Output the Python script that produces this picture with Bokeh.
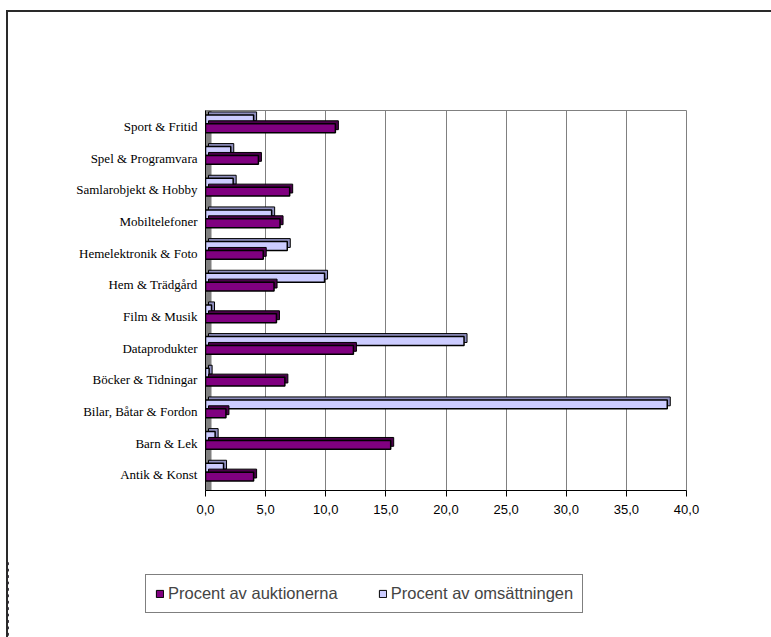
from bokeh.plotting import figure
from bokeh.models import (ColumnDataSource, FactorRange, Range1d, FixedTicker, Legend,
                          LegendItem, BoxAnnotation)
from bokeh.layouts import column
from bokeh.transform import dodge
from bokeh.embed import file_html
from bokeh.resources import INLINE

categories = ["Antik & Konst", "Barn & Lek", "Bilar, Båtar & Fordon", "Böcker & Tidningar",
              "Dataprodukter", "Film & Musik", "Hem & Trädgård", "Hemelektronik & Foto",
              "Mobiltelefoner", "Samlarobjekt & Hobby", "Spel & Programvara", "Sport & Fritid"]
auktioner = [4.0, 15.4, 1.7, 6.6, 12.3, 5.9, 5.7, 4.8, 6.2, 7.0, 4.4, 10.8]
omsattning = [1.5, 0.8, 38.4, 0.3, 21.5, 0.5, 9.9, 6.8, 5.5, 2.3, 2.1, 4.0]
tick_values = [0, 5, 10, 15, 20, 25, 30, 35, 40]
tick_labels = ["0,0", "5,0", "10,0", "15,0", "20,0", "25,0", "30,0", "35,0", "40,0"]
series_names = ["Procent av auktionerna", "Procent av omsättningen"]
colors = ["#800080", "#CCCCFF"]
side_colors = ["#4a004a", "#8f8fbf"]

depth = 0.25  # 3D end-cap offset in x units
src = ColumnDataSource(dict(cat=categories, auk=auktioner, oms=omsattning,
                            auk_d=[v + depth for v in auktioner],
                            oms_d=[v + depth for v in omsattning]))

BORDER = "2px solid #2a2a2a"
X0, Y0 = 8, 12           # content origin inside the outer border
PH = 550                 # height of the chart part
FT, FB, FL, FR = 110, 488, 205, 684
p = figure(width=765, height=PH, output_backend="svg", toolbar_location=None,
           y_range=FactorRange(*categories, range_padding=0), x_range=Range1d(0, 40),
           min_border_left=FL - X0, min_border_right=771 - FR,
           min_border_top=FT - Y0, min_border_bottom=(10 + PH) - FB)
p.margin = (10, 0, 0, 6)
p.frame_align = False
p.styles = {"border-left": BORDER, "border-top": BORDER, "box-sizing": "border-box"}

# 3D side wall
p.add_layout(BoxAnnotation(left=0, right=0.5, fill_color="#808080", fill_alpha=1,
                           line_color=None, level="underlay"))

bh = 0.28
dy = 0.095
p.hbar(y=dodge("cat", 0.22 + dy, range=p.y_range), left=depth, right="oms_d", height=bh,
       source=src, fill_color=side_colors[1], line_color="black", line_width=1)
p.hbar(y=dodge("cat", 0.22, range=p.y_range), left=0, right="oms", height=bh,
       source=src, fill_color=colors[1], line_color="black", line_width=1.5)
p.hbar(y=dodge("cat", -0.06 + dy, range=p.y_range), left=depth, right="auk_d", height=bh,
       source=src, fill_color=side_colors[0], line_color="black", line_width=1)
p.hbar(y=dodge("cat", -0.06, range=p.y_range), left=0, right="auk", height=bh,
       source=src, fill_color=colors[0], line_color="black", line_width=1.5)

p.xaxis.ticker = FixedTicker(ticks=tick_values)
p.xaxis.major_label_overrides = {v: l for v, l in zip(tick_values, tick_labels)}
p.xaxis.major_label_text_font = "Liberation Sans"
p.xaxis.major_label_text_font_size = "13px"
p.xaxis.major_label_text_color = "black"
p.xaxis.major_label_standoff = 8
p.xaxis.axis_line_color = "black"
p.xaxis.major_tick_line_color = "black"
p.xaxis.major_tick_out = 6
p.xaxis.major_tick_in = 0
p.xaxis.minor_tick_line_color = None

p.yaxis.major_label_text_font = "Liberation Serif"
p.yaxis.major_label_text_font_size = "13px"
p.yaxis.major_label_text_color = "black"
p.yaxis.axis_line_color = "black"
p.yaxis.major_tick_line_color = None
p.yaxis.minor_tick_line_color = None
p.yaxis.major_label_standoff = 2

p.xgrid.grid_line_color = "#808080"
p.xgrid.grid_line_alpha = 1
p.ygrid.grid_line_color = None
p.outline_line_color = "#808080"
p.outline_line_width = 1

# legend strip below the chart (proxy bars lie outside its x range)
QH = 637 - 10 - PH
q = figure(width=765, height=QH, output_backend="svg", toolbar_location=None,
           x_range=Range1d(100, 140), y_range=FactorRange(*categories),
           x_axis_type=None, y_axis_type=None, min_border=0)
q.margin = (0, 0, 0, 6)
q.frame_align = False
q.styles = {"border-left": BORDER, "box-sizing": "border-box"}
q.outline_line_color = None
q.xgrid.grid_line_color = None
q.ygrid.grid_line_color = None
l_auk = q.hbar(y="cat", left=0, right="auk", height=0.3, source=src,
               fill_color=colors[0], line_color="black", line_width=1)
l_oms = q.hbar(y="cat", left=0, right="oms", height=0.3, source=src,
               fill_color=colors[1], line_color="black", line_width=1)

legend = Legend(items=[LegendItem(label=series_names[0], renderers=[l_auk]),
                       LegendItem(label=series_names[1], renderers=[l_oms])],
                orientation="horizontal", location=(145 - X0, (10 + PH + QH) - 613))
legend.label_text_font = "Liberation Sans"
legend.label_text_font_size = "16.5px"
legend.glyph_width = 9
legend.glyph_height = 9
legend.label_standoff = 4
legend.spacing = 40
legend.padding = 9
legend.margin = 0
legend.label_height = 15
legend.border_line_color = "black"
legend.border_line_width = 1
legend.background_fill_color = "white"
legend.background_fill_alpha = 1
q.add_layout(legend, "center")

layout = column(p, q, spacing=0)
open("out.html", "w").write(file_html(layout, INLINE))
